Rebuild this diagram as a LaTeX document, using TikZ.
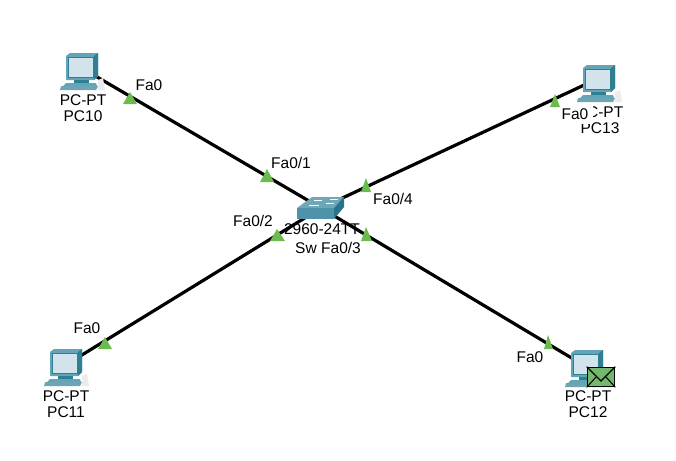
\documentclass[tikz,border=0pt]{standalone}
\usepackage{fontspec}
\setmainfont{Liberation Sans}
\usetikzlibrary{positioning,calc}
\definecolor{pcdark}{HTML}{2F7F93}
\definecolor{pcmid}{HTML}{62A4B8}
\definecolor{pcscreen}{HTML}{D3E3EC}
\definecolor{swtop}{HTML}{6FA7B8}
\definecolor{swfront}{HTML}{4F93AB}
\definecolor{swside}{HTML}{2A7388}
\definecolor{portgreen}{HTML}{6CBB4F}
\definecolor{mailgreen}{HTML}{73B86D}
\tikzset{
 lbl/.style={font=\fontsize{15.5}{18}\selectfont,inner sep=0pt,text=black},
 port/.style={lbl,fill=white,inner xsep=1pt,inner ysep=2pt},
 link/.style={line width=3.2pt,black},
 tri/.style={fill=portgreen,draw=none},
 pc/.pic={
  % monitor
  \fill[pcmid] (-14,-15) -- (-10,-18) -- (18,-18) -- (18,5) -- (14,9) -- (-14,9) -- cycle;
  \fill[pcdark] (14,-15) -- (18,-18) -- (18,5) -- (14,9) -- cycle;
  \fill[pcscreen,draw=pcdark,line width=.8pt] (-12,-14) -- (13,-14) -- (13,6) -- (-12,6) -- cycle;
  \fill[pcdark] (-6,9) rectangle (9,12);
  % base and keyboard
  \fill[pcmid] (-14,12) -- (16,12) -- (17,15) -- (-17,15) -- cycle;
  \fill[pcdark!70] (-19,15) -- (18,15) -- (16,19) -- (-20,19) -- cycle;
  \fill[black!8] (18,9) -- (23,7) -- (25,19) -- (18,19) -- cycle;
 }
}
\begin{document}
\begin{tikzpicture}[x=1pt,y=-1pt]
\useasboundingbox (0,0) rectangle (676,460);
\coordinate (pc10) at (80,67);
\coordinate (pc11) at (64,366);
\coordinate (pc12) at (585,366);
\coordinate (pc13) at (597,79);
\coordinate (sw) at (321,208);
% links
\draw[link] (pc10) -- (sw);
\draw[link] (pc11) -- (sw);
\draw[link] (pc12) -- (sw);
\draw[link] (pc13) -- (sw);
% device
\pic at (80,71) {pc};
\pic at (64,367) {pc};
\pic at (585,368) {pc};
\pic at (597,83) {pc};
\fill[swtop] (297,208) -- (312,197) -- (344,197) -- (334,208) -- cycle;
\fill[swfront] (297,208) rectangle (334,219);
\fill[swside] (334,208) -- (344,197) -- (344,207) -- (334,219) -- cycle;
\draw[white,line width=.6pt] (314,200) -- (322,200) (330,199) -- (338,199) (309,205) -- (319,205) (326,203) -- (334,203);
% names
\node[lbl] (pc10a) at (83,100) {PC-PT};
\node[lbl,below=5pt of pc10a] (pc10b) {PC10};
\node[lbl] (pc11a) at (66,396) {PC-PT};
\node[lbl,below=5pt of pc11a] (pc11b) {PC11};
\node[lbl] (pc12a) at (588,396) {PC-PT};
\node[lbl,below=5pt of pc12a] (pc12b) {PC12};
\node[lbl] (pc13a) at (600,112) {PC-PT};
\node[lbl,below=5pt of pc13a] (pc13b) {PC13};
\node[lbl] (swa) at (322,229) {2960-24TT};
\node[lbl] (swb) at (306,248) {Sw};
% ports
\node[port] (f0) at (149,85) {Fa0};
\node[port] (f1) at (291,163) {Fa0/1};
\node[port] (f2) at (253,221) {Fa0/2};
\node[port] (f3) at (341,248) {Fa0/3};
\node[port] (f4) at (393,199) {Fa0/4};
\node[port] (f5) at (87,328) {Fa0};
\node[port] (f6) at (530,357) {Fa0};
\node[port,inner ysep=4.5pt] (f7) at (577,114) {Fa0\hspace*{4pt}};
% triangles
\fill[tri] (130,92) -- (137,104) -- (123,104) -- cycle;
\fill[tri] (267,169) -- (274,182) -- (260,182) -- cycle;
\fill[tri] (277,229) -- (285,241) -- (270,241) -- cycle;
\fill[tri] (366,178) -- (371,192) -- (361,192) -- cycle;
\fill[tri] (366,227) -- (372,241) -- (361,241) -- cycle;
\fill[tri] (555,94) -- (560,107) -- (550,107) -- cycle;
\fill[tri] (548,335) -- (553,349) -- (544,349) -- cycle;
\fill[tri] (105,337) -- (112,349) -- (98,349) -- cycle;
% mail
\node[draw=black,line width=1.6pt,fill=mailgreen,minimum width=27pt,minimum height=19pt,inner sep=0pt] (mail) at (601,377) {};
\draw[line width=1.2pt] (mail.north west) -- ($(mail.center)+(0,4)$) -- (mail.north east);
\draw[line width=1pt] (mail.south west) -- ($(mail.center)+(-5,0)$) (mail.south east) -- ($(mail.center)+(5,0)$);
\end{tikzpicture}
\end{document}
